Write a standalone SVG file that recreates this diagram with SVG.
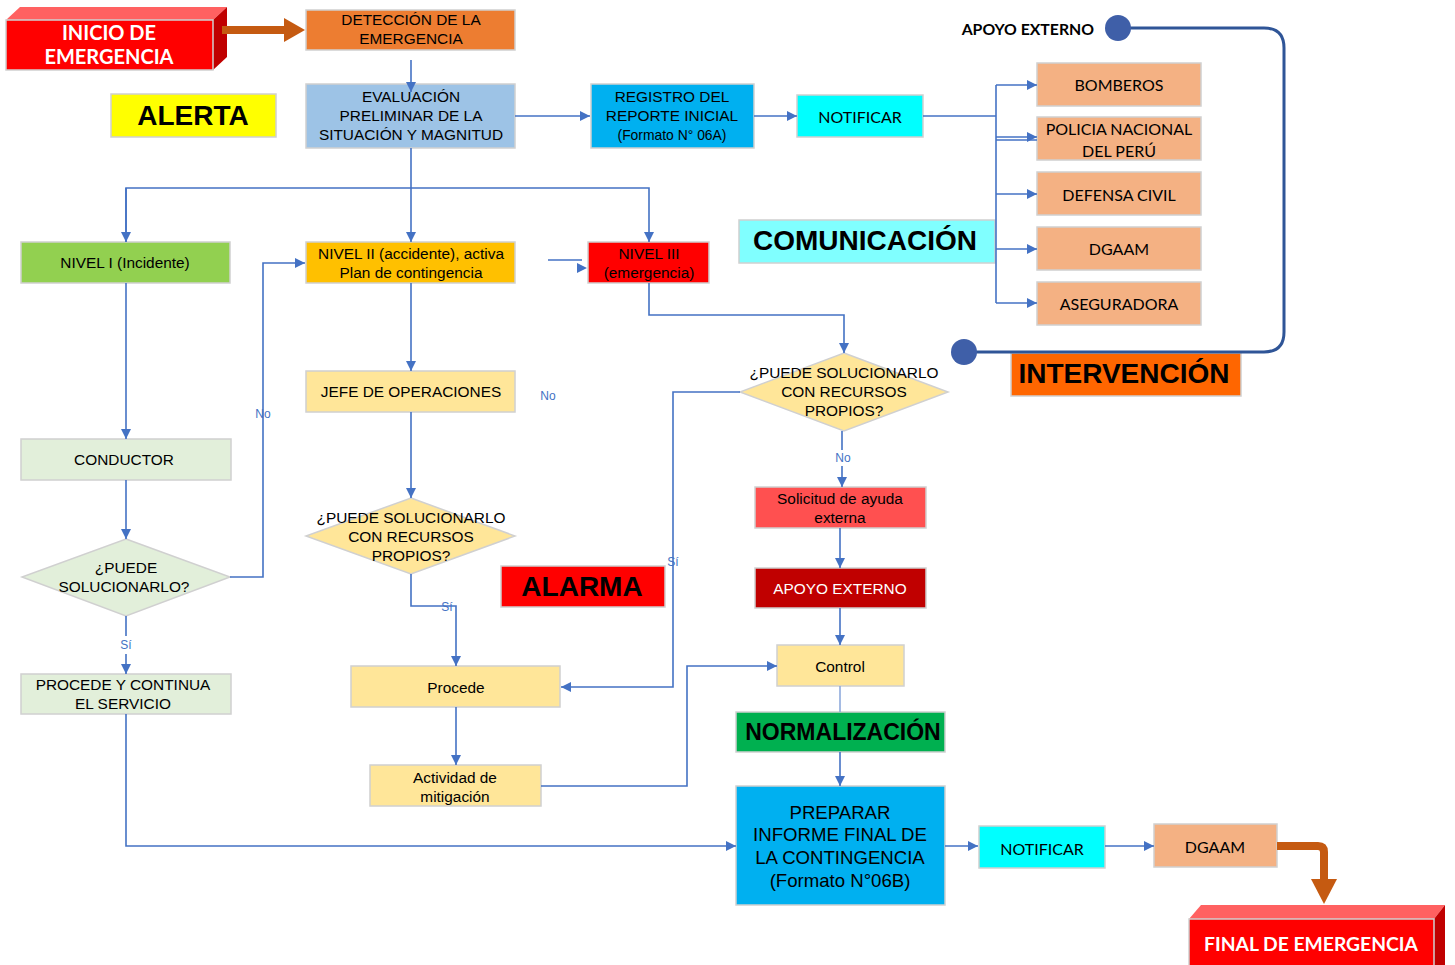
<svg xmlns="http://www.w3.org/2000/svg" width="1455" height="965" viewBox="0 0 1455 965">
<defs>
<marker id="ah" viewBox="0 0 10 10" refX="10" refY="5" markerWidth="10" markerHeight="10" markerUnits="userSpaceOnUse" orient="auto"><path d="M0,0 L10,5 L0,10 z" fill="#4472C4"/></marker>
<style>
.b{stroke:#D0D0D0;stroke-width:1.5}
.t{font-family:"Liberation Sans",Arial,sans-serif;font-size:15.4px;fill:#000;text-anchor:middle;dominant-baseline:central}
.c{font-family:Lato,"Open Sans",sans-serif;font-size:16px;fill:#000;text-anchor:middle;dominant-baseline:central}
.h{font-family:"Liberation Sans",Arial,sans-serif;font-weight:bold;font-size:28px;fill:#000;text-anchor:middle;dominant-baseline:central}
.w{font-family:Lato,"Open Sans",sans-serif;font-weight:bold;font-size:20px;fill:#fff;text-anchor:middle;dominant-baseline:central}
.l{font-family:"Liberation Sans",Arial,sans-serif;font-size:12px;fill:#4472C4;text-anchor:middle;dominant-baseline:central}
.k{fill:none;stroke:#4472C4;stroke-width:1.6}
</style>
</defs>
<rect width="1455" height="965" fill="#fff"/>

<g id="inicio">
<path d="M6,20 L20,7 L227,7 L213,20 z" fill="#FF6161"/>
<path d="M213,20 L227,7 L227,57 L213,70 z" fill="#C00000"/>
<rect x="6" y="20" width="207" height="50" fill="#FF0000" class="b"/>
<text class="w" x="109" y="32">INICIO DE</text>
<text class="w" x="109" y="56">EMERGENCIA</text>
</g>
<g id="deteccion"><rect x="306" y="10" width="209" height="40" fill="#ED7D31" class="b"/><text class="t" x="411" y="19">DETECCIÓN DE LA</text><text class="t" x="411" y="38">EMERGENCIA</text></g>
<g id="alerta"><rect x="111" y="94" width="165" height="43" fill="#FFFF00" class="b"/><text class="h" x="193" y="115">ALERTA</text></g>
<g id="evaluacion"><rect x="306" y="84" width="209" height="64" fill="#9DC3E6" class="b"/><text class="t" x="411" y="96">EVALUACIÓN</text><text class="t" x="411" y="115">PRELIMINAR DE LA</text><text class="t" x="411" y="134">SITUACIÓN  Y  MAGNITUD</text></g>
<g id="registro"><rect x="591" y="84" width="163" height="64" fill="#00B0F0" class="b"/><text class="t" x="672" y="96">REGISTRO DEL</text><text class="t" x="672" y="115">REPORTE INICIAL</text><text class="t" x="672" y="135" style="font-size:13.9px">(Formato N° 06A)</text></g>
<g id="notificar1"><rect x="797" y="95" width="126" height="42" fill="#00FFFF" class="b"/><text class="c" x="860" y="116">NOTIFICAR</text></g>
<g id="apoyo-label"><text x="1094" y="28" font-family="Lato,'Open Sans',sans-serif" font-weight="bold" font-size="15.8" text-anchor="end" dominant-baseline="central">APOYO EXTERNO</text></g>
<g id="bomberos"><rect x="1037" y="63" width="164" height="43" fill="#F4B183" class="b"/><text class="c" x="1119" y="84">BOMBEROS</text></g>
<g id="policia"><rect x="1037" y="117" width="164" height="43" fill="#F4B183" class="b"/><text class="c" x="1119" y="128">POLICIA NACIONAL</text><text class="c" x="1119" y="150">DEL PERÚ</text></g>
<g id="defensa"><rect x="1037" y="172" width="164" height="43" fill="#F4B183" class="b"/><text class="c" x="1119" y="194">DEFENSA CIVIL</text></g>
<g id="dgaam1"><rect x="1037" y="227" width="164" height="43" fill="#F4B183" class="b"/><text class="c" x="1119" y="248">DGAAM</text></g>
<g id="aseguradora"><rect x="1037" y="282" width="164" height="43" fill="#F4B183" class="b"/><text class="c" x="1119" y="303">ASEGURADORA</text></g>
<g id="comunicacion"><rect x="739" y="220" width="256" height="43" fill="#80FFFF" class="b"/><text class="h" x="865" y="240">COMUNICACIÓN</text></g>
<g id="intervencion"><rect x="1011" y="353" width="230" height="43" fill="#FF6600" class="b"/><text class="h" x="1124" y="373">INTERVENCIÓN</text></g>
<g id="nivel1"><rect x="21" y="242" width="209" height="41" fill="#92D050" class="b"/><text class="t" x="125" y="262">NIVEL I (Incidente)</text></g>
<g id="nivel2"><rect x="306" y="242" width="209" height="41" fill="#FFC000" class="b"/><text class="t" x="411" y="253">NIVEL II (accidente), activa</text><text class="t" x="411" y="272">Plan de contingencia</text></g>
<g id="nivel3"><rect x="588" y="242" width="121" height="41" fill="#FF0000" class="b"/><text class="t" x="649" y="253">NIVEL III</text><text class="t" x="649" y="272">(emergencia)</text></g>
<g id="conductor"><rect x="21" y="439" width="210" height="41" fill="#E2EFDA" class="b"/><text class="t" x="124" y="459">CONDUCTOR</text></g>
<g id="decision1"><path d="M126,539 L230,577 L126,616 L22,577 z" fill="#E2EFDA" class="b"/><text class="t" x="126" y="567">¿PUEDE</text><text class="t" x="124" y="586">SOLUCIONARLO?</text></g>
<g id="procede-continua"><rect x="21" y="674" width="210" height="40" fill="#E2EFDA" class="b"/><text class="t" x="123" y="684">PROCEDE Y CONTINUA</text><text class="t" x="123" y="703">EL SERVICIO</text></g>
<g id="jefe"><rect x="306" y="371" width="209" height="41" fill="#FFE699" class="b"/><text class="t" x="411" y="391">JEFE DE  OPERACIONES</text></g>
<g id="decision2"><path d="M411,498 L515,536 L411,574 L306,536 z" fill="#FFE699" class="b"/><text class="t" x="411" y="517">¿PUEDE SOLUCIONARLO</text><text class="t" x="411" y="536">CON RECURSOS</text><text class="t" x="411" y="555">PROPIOS?</text></g>
<g id="procede"><rect x="351" y="666" width="209" height="41" fill="#FFE699" class="b"/><text class="t" x="456" y="687">Procede</text></g>
<g id="mitigacion"><rect x="370" y="765" width="171" height="41" fill="#FFE699" class="b"/><text class="t" x="455" y="777">Actividad de</text><text class="t" x="455" y="796">mitigación</text></g>
<g id="alarma"><rect x="501" y="566" width="164" height="41" fill="#FF0000" class="b"/><text class="h" x="582" y="586">ALARMA</text></g>
<g id="decision3"><path d="M844,353 L948,392 L844,431 L740,392 z" fill="#FFE699" class="b"/><text class="t" x="844" y="372">¿PUEDE  SOLUCIONARLO</text><text class="t" x="844" y="391">CON RECURSOS</text><text class="t" x="844" y="410">PROPIOS?</text></g>
<g id="solicitud"><rect x="755" y="487" width="171" height="41" fill="#FF5050" class="b"/><text class="t" x="840" y="498">Solicitud de ayuda</text><text class="t" x="840" y="517">externa</text></g>
<g id="apoyo"><rect x="755" y="568" width="171" height="40" fill="#C00000" class="b"/><text class="t" x="840" y="588" style="fill:#fff">APOYO EXTERNO</text></g>
<g id="control"><rect x="777" y="645" width="127" height="41" fill="#FFE699" class="b"/><text class="t" x="840" y="666">Control</text></g>
<g id="normalizacion"><rect x="736" y="712" width="209" height="40" fill="#00B050" class="b"/><text class="h" x="843" y="732" style="font-size:23px">NORMALIZACIÓN</text></g>
<g id="preparar"><rect x="736" y="786" width="209" height="119" fill="#00B0F0" class="b"/><text class="t" x="840" y="812" style="font-size:18.6px">PREPARAR</text><text class="t" x="840" y="834" style="font-size:18.6px">INFORME FINAL DE</text><text class="t" x="840" y="857" style="font-size:18.6px">LA CONTINGENCIA</text><text class="t" x="840" y="880" style="font-size:18.6px">(Formato N°06B)</text></g>
<g id="notificar2"><rect x="979" y="826" width="126" height="42" fill="#00FFFF" class="b"/><text class="c" x="1042" y="848">NOTIFICAR</text></g>
<g id="dgaam2"><rect x="1154" y="824" width="123" height="43" fill="#F4B183" class="b"/><text class="c" x="1215" y="846">DGAAM</text></g>
<g id="final">
<path d="M1189,919 L1201,905 L1445,905 L1434,919 z" fill="#FF6161"/>
<path d="M1434,919 L1445,905 L1445,965 L1434,965 z" fill="#C00000"/>
<rect x="1189" y="919" width="245" height="50" fill="#FF0000" class="b"/>
<text class="w" x="1311" y="943" style="font-size:19.3px">FINAL DE EMERGENCIA</text>
</g>

<g id="connectors">
<path class="k" d="M411,60 V92" marker-end="url(#ah)"/>
<path class="k" d="M515,116 H590" marker-end="url(#ah)"/>
<path class="k" d="M754,116 H797" marker-end="url(#ah)"/>
<path class="k" d="M923,116 H996" stroke-width="2.2"/>
<path class="k" d="M996,85 V303"/>
<path class="k" d="M996,85 H1037" marker-end="url(#ah)"/>
<path class="k" d="M996,137 H1037" marker-end="url(#ah)"/>
<path class="k" d="M996,140 H1037"/>
<path class="k" d="M996,194 H1037" marker-end="url(#ah)"/>
<path class="k" d="M996,249 H1037" marker-end="url(#ah)"/>
<path class="k" d="M996,303 H1037" marker-end="url(#ah)"/>
<path class="k" d="M411,148 V242" marker-end="url(#ah)"/>
<path class="k" d="M126,242 V188 H649 V242" marker-end="url(#ah)"/>
<path class="k" d="M126,188 V242" marker-end="url(#ah)"/>
<path class="k" d="M548,260 H582"/>
<path d="M577,263 L587,268 L577,273 z" fill="#4472C4"/>
<path class="k" d="M126,283 V439" marker-end="url(#ah)"/>
<path class="k" d="M126,480 V539" marker-end="url(#ah)"/>
<path class="k" d="M230,577 H263 V263 H305" marker-end="url(#ah)"/>
<path class="k" d="M126,616 V636 M126,654 V674" marker-end="url(#ah)"/>
<path class="k" d="M126,714 V846 H736" marker-end="url(#ah)"/>
<path class="k" d="M411,283 V371" marker-end="url(#ah)"/>
<path class="k" d="M411,412 V498" marker-end="url(#ah)"/>
<path class="k" d="M411,574 V606 H456 V666" marker-end="url(#ah)"/>
<path class="k" d="M456,707 V765" marker-end="url(#ah)"/>
<path class="k" d="M541,786 H687 V666 H777" marker-end="url(#ah)"/>
<path class="k" d="M649,283 V315 H844 V353" marker-end="url(#ah)"/>
<path class="k" d="M740,392 H673 V687 H561" marker-end="url(#ah)"/>
<path class="k" d="M842,431 V450 M842,466 V487" stroke-width="3" marker-end="url(#ah)"/>
<path class="k" d="M840,528 V568" marker-end="url(#ah)"/>
<path class="k" d="M840,608 V645" marker-end="url(#ah)"/>
<path d="M840,686 V712" stroke="#8FAADC" stroke-width="1.6"/>
<path class="k" d="M840,752 V786" marker-end="url(#ah)"/>
<path class="k" d="M945,846 H978" marker-end="url(#ah)"/>
<path class="k" d="M1105,846 H1154" marker-end="url(#ah)"/>
<path d="M1118,28 H1264 Q1284,28 1284,48 V332 Q1284,352 1264,352 H964" fill="none" stroke="#2F5597" stroke-width="3"/>
<circle cx="1118" cy="28" r="13" fill="#3F5FA8"/>
<circle cx="964" cy="352" r="13" fill="#3F5FA8"/>
<path d="M222,30 H288" stroke="#C55A11" stroke-width="8" fill="none"/>
<path d="M284,18 L305,30 L284,42 z" fill="#C55A11"/>
<path d="M1277,846 H1318 Q1324,846 1324,852 V882" stroke="#C55A11" stroke-width="8" fill="none"/>
<path d="M1311,879 L1337,879 L1324,904 z" fill="#C55A11"/>
<text class="l" x="263" y="414">No</text>
<text class="l" x="126" y="645">Sí</text>
<text class="l" x="447" y="607">Sí</text>
<text class="l" x="548" y="396">No</text>
<text class="l" x="673" y="562">Sí</text>
<text class="l" x="843" y="458">No</text>
</g>
</svg>
